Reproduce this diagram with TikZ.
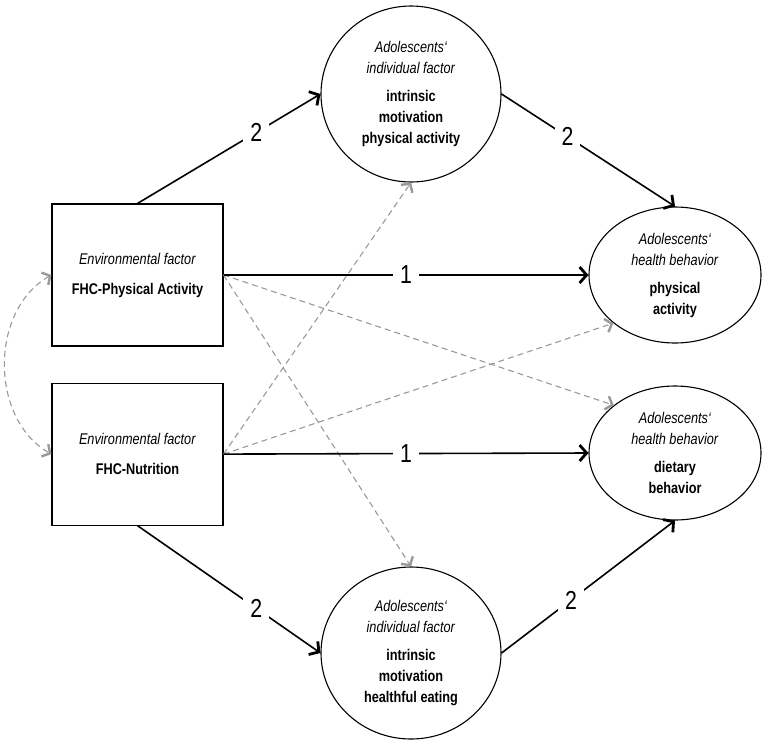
\documentclass[tikz,border=0pt]{standalone}
\usepackage{fontspec}
\setmainfont{Liberation Sans}[FakeStretch=0.82]
\usepackage{tikz}
\usetikzlibrary{arrows.meta, positioning, shapes.geometric}

\begin{document}
\begin{tikzpicture}[
    x=1pt, y=-1pt,
    font=\fontsize{15.5}{21}\selectfont,
    box/.style={rectangle, draw, line width=1.1pt, minimum width=171pt, minimum height=142pt, align=center, inner sep=0pt},
    latent/.style={ellipse, draw, line width=1.1pt, inner sep=0pt, align=center},
    arrow/.style={-{Straight Barb[length=7pt, width=16pt, line width=2.8pt]}, line width=1.6pt},
    dasharrow/.style={-{Straight Barb[length=6pt, width=14pt, line width=2.4pt]}, line width=1.1pt, draw=black!40, dash pattern=on 6pt off 4pt},
    coef/.style={fill=white, inner sep=7pt, font=\fontsize{26}{26}\selectfont}
  ]
    \useasboundingbox (0,0) rectangle (763,745);

    \node[box] (pa) at (137.5,275) {\textit{Environmental factor}\\[9pt]\textbf{FHC-Physical Activity}};
    \node[box, below=36pt of pa] (nu) {\textit{Environmental factor}\\[9pt]\textbf{FHC-Nutrition}};

    \node[latent, minimum width=180pt, minimum height=176pt] (mpa) at (411,94)
      {\textit{Adolescents‘}\\\textit{individual factor}\\[7pt]\textbf{intrinsic}\\\textbf{motivation}\\\textbf{physical activity}};
    \node[latent, minimum width=180pt, minimum height=172pt] (mhe) at (411,653)
      {\textit{Adolescents‘}\\\textit{individual factor}\\[7pt]\textbf{intrinsic}\\\textbf{motivation}\\\textbf{healthful eating}};
    \node[latent, minimum width=172pt, minimum height=136pt] (hpa) at (675,275)
      {\textit{Adolescents‘}\\\textit{health behavior}\\[7pt]\textbf{physical}\\\textbf{activity}};
    \node[latent, minimum width=172pt, minimum height=134pt] (hdb) at (675,453)
      {\textit{Adolescents‘}\\\textit{health behavior}\\[7pt]\textbf{dietary}\\\textbf{behavior}};

    % covariance and indirect paths
    \draw[dasharrow, {Straight Barb[length=6pt, width=14pt, line width=2.4pt]}-{Straight Barb[length=6pt, width=14pt, line width=2.4pt]}]
      (pa.west) .. controls +(-62,35) and +(-62,-35) .. (nu.west);
    \draw[dasharrow] (pa.east) -- (mhe.north);
    \draw[dasharrow] (pa.east) -- (hdb.142);
    \draw[dasharrow] (nu.east) -- (mpa.south);
    \draw[dasharrow] (nu.east) -- (hpa.218);

    % direct paths
    \draw[arrow] (pa.north) -- node[coef, pos=0.65] {2} (mpa.west);
    \draw[arrow] (mpa.east) -- node[coef, pos=0.38] {2} (hpa.north);
    \draw[arrow] (pa.east) -- node[coef] {1} (hpa.west);
    \draw[arrow] (nu.east) -- node[coef] {1} (hdb.west);
    \draw[arrow] (nu.south) -- node[coef, pos=0.65] {2} (mhe.west);
    \draw[arrow] (mhe.east) -- node[coef, pos=0.4] {2} (hdb.south);
\end{tikzpicture}
\end{document}
